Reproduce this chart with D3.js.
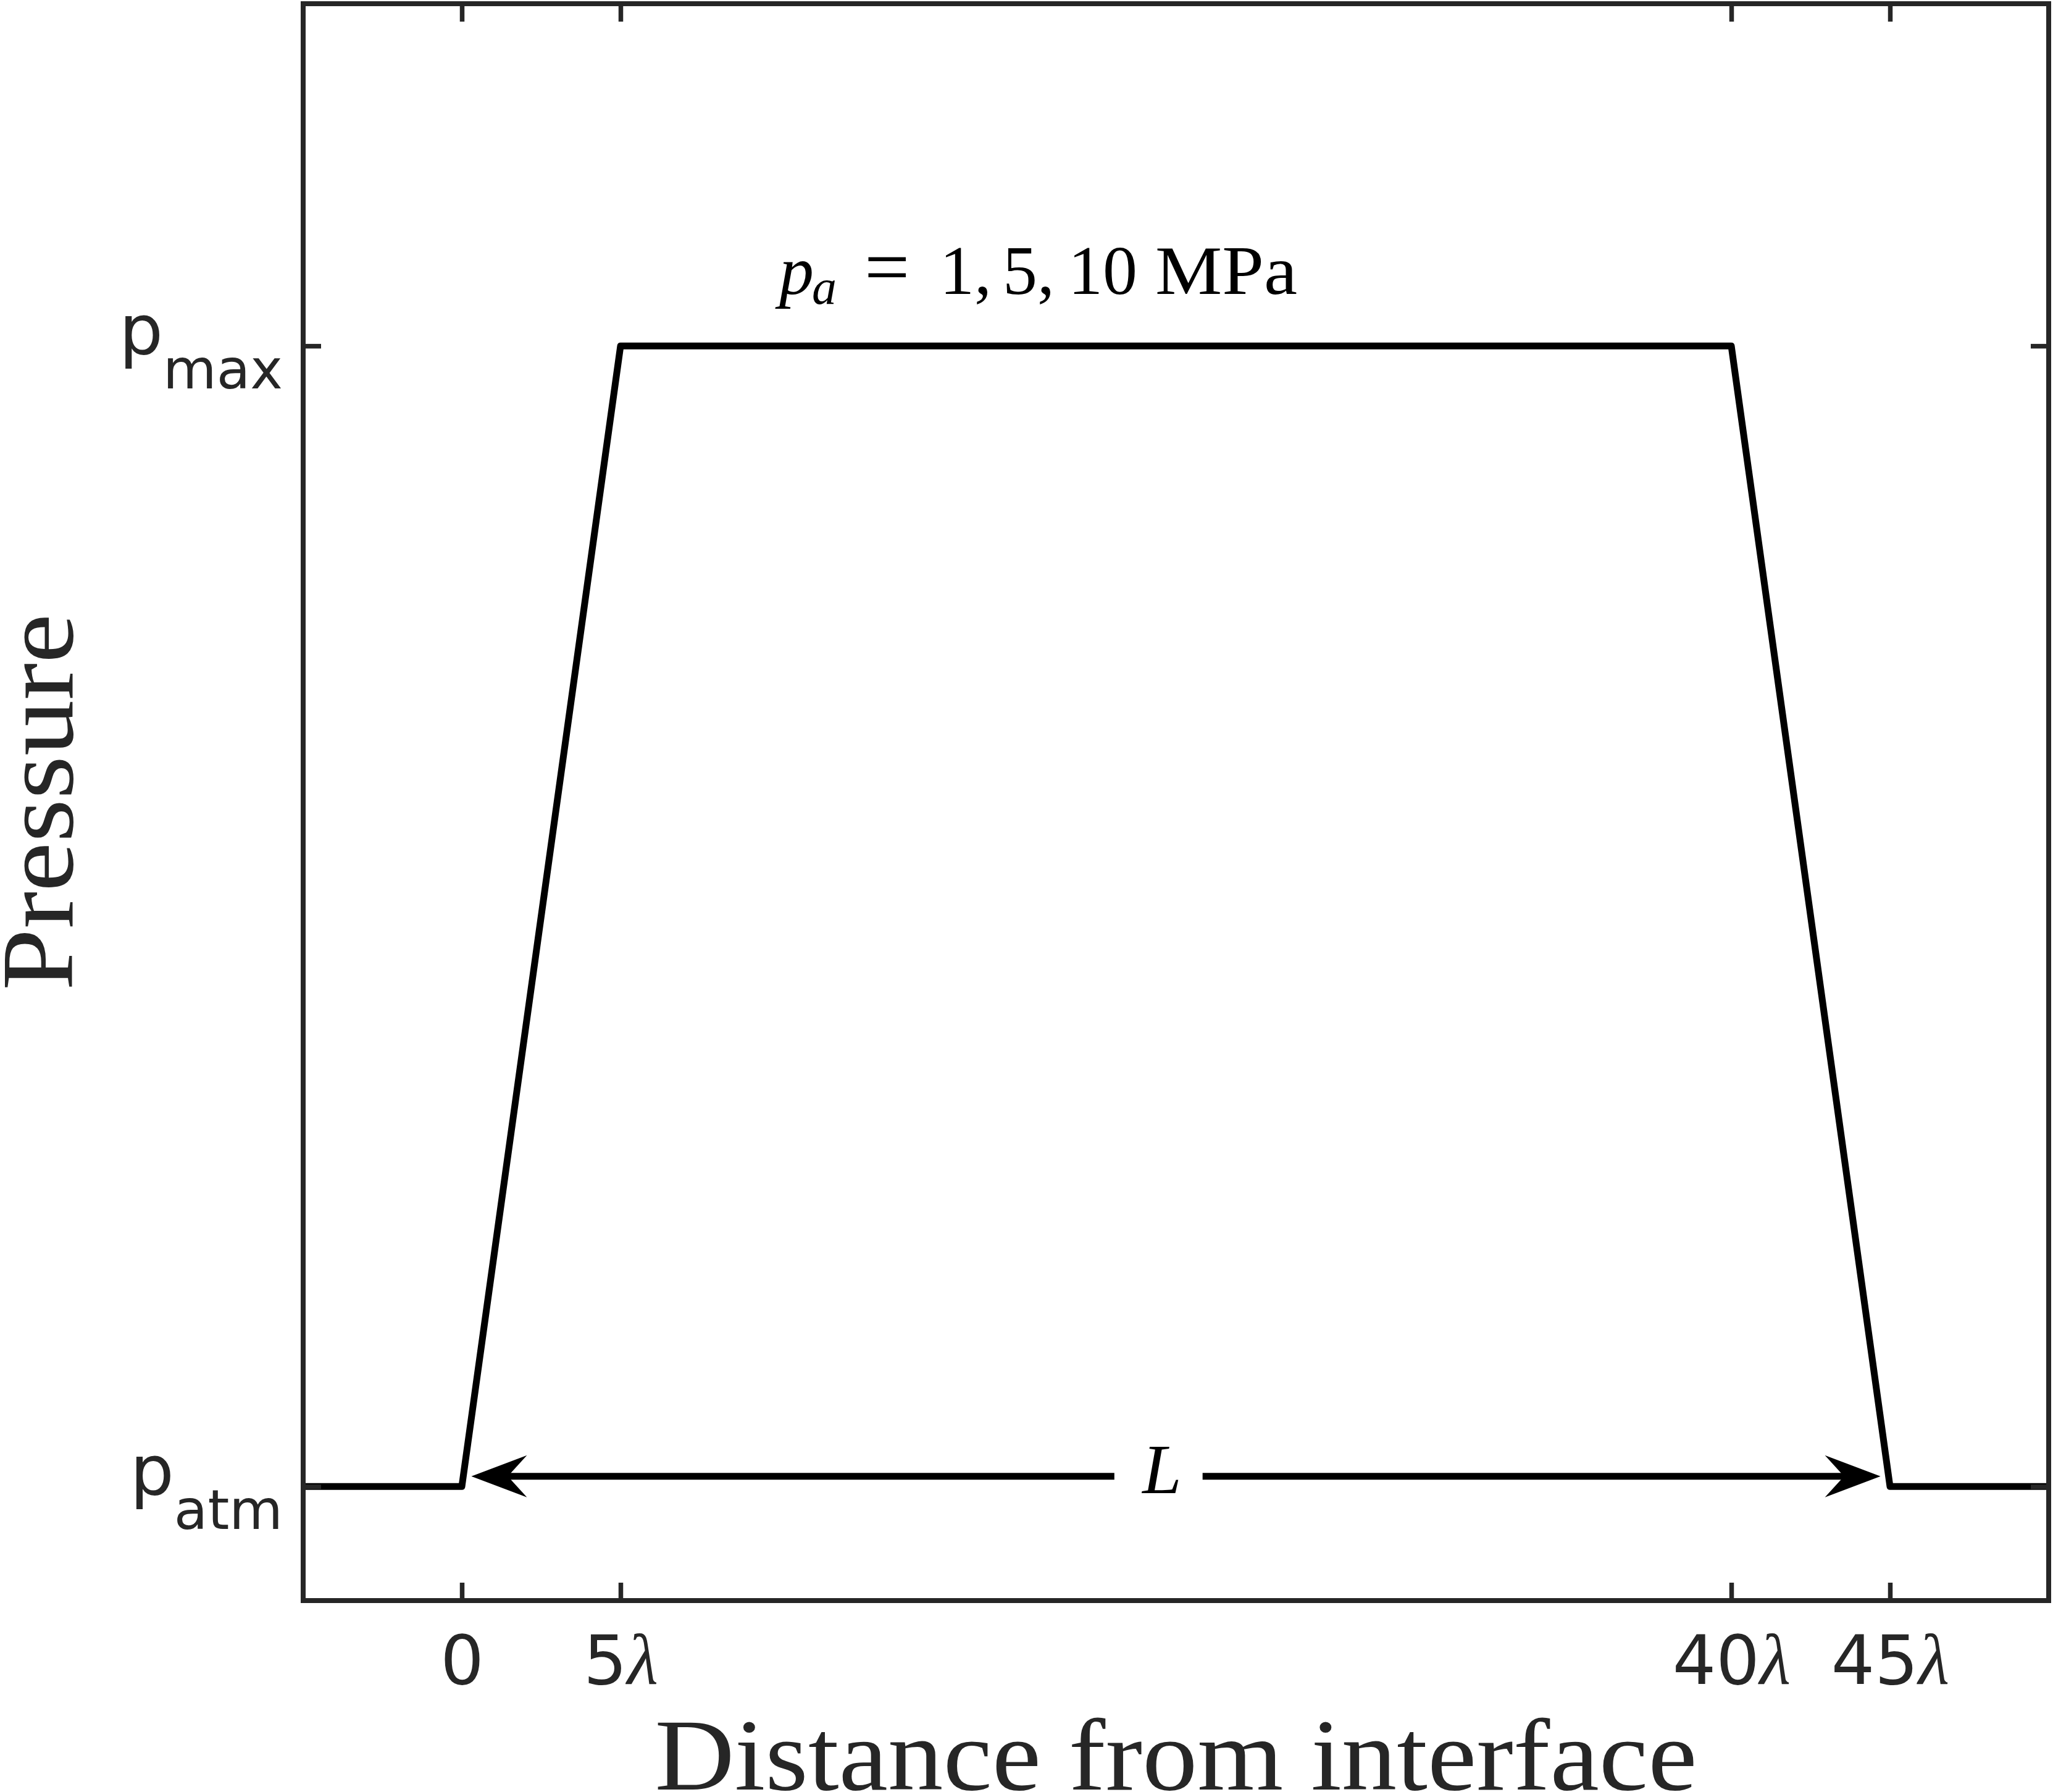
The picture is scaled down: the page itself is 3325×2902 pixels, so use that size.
<!DOCTYPE html>
<html>
<head>
<meta charset="utf-8">
<script src="https://cdn.jsdelivr.net/npm/d3@7"></script>
<style>
  body { margin: 0; background: #fff; }
</style>
</head>
<body>
<div id="vis"></div>
<script>
// Pressure profile along the domain (distance in units of lambda)
let distance = [-5, 0, 5, 40, 45, 50];
let pressure = [0, 0, 1, 1, 0, 0];   // 0 = p_atm, 1 = p_max

// Ticks
let xTicks = [0, 5, 40, 45];
let xTickNumbers = ['0', '5', '40', '45'];
let yTicks = [0, 1];
let yTickSubs = ['atm', 'max'];

// Double arrow marking the length L (data units)
let arrowFrom = 0.3, arrowTo = 44.7, arrowLevel = 0.009;
let gapFrom = 20.56, gapTo = 23.34, labelAt = 22.06;

// Set up dimensions
let width = 3325,
    height = 2902;

let margin = {
  top: 6,
  bottom: 310,
  left: 491,
  right: 7
};

let axisColor = '#262626';

// Create SVG
let svg = d3.select('#vis')
            .append('svg')
            .attr('width', width)
            .attr('height', height)
            .style('background', '#fff');

// Scales
let xScale = d3.scaleLinear()
    .domain([-5, 50])
    .range([margin.left, width - margin.right]);

let yScale = d3.scaleLinear()
    .domain([-0.1, 1.3])
    .range([height - margin.bottom, margin.top]);

let x0 = xScale.range()[0], x1 = xScale.range()[1];
let yB = yScale.range()[0], yT = yScale.range()[1];

// Pressure curve
let points = distance.map((d, i) => ({x: d, p: pressure[i]}));
let line = d3.line()
    .x(d => xScale(d.x))
    .y(d => yScale(d.p));

svg.append('path')
    .datum(points)
    .attr('d', line)
    .attr('fill', 'none')
    .attr('stroke', '#000')
    .attr('stroke-width', 11)
    .attr('stroke-linejoin', 'round');

// Axes (ticks pointing inward on all four sides)
function styleAxis(g) {
  g.select('.domain').remove();
  g.selectAll('.tick line')
    .attr('stroke', axisColor)
    .attr('stroke-width', 7.5);
}

let xAxis = svg.append('g')
    .attr('transform', `translate(0, ${yB})`)
    .call(d3.axisBottom(xScale).tickValues(xTicks).tickSizeInner(-29).tickSizeOuter(0))
    .call(styleAxis);

svg.append('g')
    .attr('transform', `translate(0, ${yT})`)
    .call(d3.axisTop(xScale).tickValues(xTicks).tickSizeInner(-29).tickSizeOuter(0).tickFormat(''))
    .call(styleAxis);

let yAxis = svg.append('g')
    .attr('transform', `translate(${x0}, 0)`)
    .call(d3.axisLeft(yScale).tickValues(yTicks).tickSizeInner(-29).tickSizeOuter(0))
    .call(styleAxis);

svg.append('g')
    .attr('transform', `translate(${x1}, 0)`)
    .call(d3.axisRight(yScale).tickValues(yTicks).tickSizeInner(-29).tickSizeOuter(0).tickFormat(''))
    .call(styleAxis);

// X tick labels: number + lambda
xAxis.selectAll('.tick text')
    .text(null)
    .attr('y', 135)
    .attr('dy', 0)
    .attr('fill', axisColor)
    .style('font-family', 'DejaVu Sans')
    .style('font-size', '111px')
    .each(function(d, i) {
      let t = d3.select(this);
      t.append('tspan').text(xTickNumbers[i]);
      if (d !== 0) {
        t.append('tspan')
          .style('font-family', 'Liberation Serif')
          .style('font-style', 'italic')
          .style('font-size', '116px')
          .text('λ');
      }
    });

// Y tick labels: p with subscript
yAxis.selectAll('.tick text')
    .text(null)
    .attr('x', -33)
    .attr('dy', 0)
    .attr('y', 13.5)
    .attr('text-anchor', 'end')
    .attr('fill', axisColor)
    .style('font-family', 'DejaVu Sans')
    .style('font-size', '112px')
    .each(function(d, i) {
      let t = d3.select(this);
      t.append('tspan').text('p');
      t.append('tspan')
        .attr('dy', 55)
        .style('font-size', '89px')
        .text(yTickSubs[i]);
    });

// Axes box
svg.append('rect')
    .attr('x', x0)
    .attr('y', yT)
    .attr('width', x1 - x0)
    .attr('height', yB - yT)
    .attr('fill', 'none')
    .attr('stroke', axisColor)
    .attr('stroke-width', 8);

// Length arrow
let ay = yScale(arrowLevel);
svg.append('line')
    .attr('x1', xScale(arrowFrom) + 40).attr('x2', xScale(gapFrom))
    .attr('y1', ay).attr('y2', ay)
    .attr('stroke', '#000').attr('stroke-width', 11);
svg.append('line')
    .attr('x1', xScale(gapTo)).attr('x2', xScale(arrowTo) - 40)
    .attr('y1', ay).attr('y2', ay)
    .attr('stroke', '#000').attr('stroke-width', 11);

function arrowHead(tip, dir) {
  // dir = +1 points right, -1 points left
  return `M${tip},${ay} L${tip - dir * 90},${ay - 34} L${tip - dir * 59},${ay} L${tip - dir * 90},${ay + 34} Z`;
}
svg.append('path').attr('d', arrowHead(xScale(arrowFrom), -1)).attr('fill', '#000');
svg.append('path').attr('d', arrowHead(xScale(arrowTo), 1)).attr('fill', '#000');

svg.append('text')
    .attr('x', xScale(labelAt))
    .attr('y', 2418)
    .attr('text-anchor', 'middle')
    .style('font-family', 'Liberation Serif')
    .style('font-style', 'italic')
    .style('font-size', '114px')
    .attr('fill', '#000')
    .text('L');

// Amplitude annotation above the plateau
let title = svg.append('text')
    .attr('y', 476)
    .style('font-family', 'Liberation Serif')
    .style('font-size', '112px')
    .attr('fill', '#000');
title.append('tspan').attr('x', 1262).style('font-style', 'italic').text('p');
title.append('tspan').attr('x', 1315).attr('dy', 16).style('font-style', 'italic').style('font-size', '80px').text('a');
title.append('tspan').attr('x', 1400).attr('dy', -16).style('font-size', '130px').text('=');
title.append('tspan').attr('x', 1522).text('1,');
title.append('tspan').attr('x', 1624).text('5,');
title.append('tspan').attr('x', 1730).text('10');
title.append('tspan').attr('x', 1871).attr('textLength', 230).attr('lengthAdjust', 'spacingAndGlyphs').text('MPa');

// X-axis label
svg.append('text')
    .attr('x', (x0 + x1) / 2)
    .attr('y', 2898)
    .attr('text-anchor', 'middle')
    .attr('textLength', 1688)
    .attr('lengthAdjust', 'spacingAndGlyphs')
    .attr('fill', axisColor)
    .style('font-family', 'Liberation Serif')
    .style('font-size', '166px')
    .text('Distance from interface');

// Y-axis label
svg.append('text')
    .attr('transform', `translate(117, ${(yT + yB) / 2}) rotate(-90)`)
    .attr('text-anchor', 'middle')
    .attr('textLength', 610)
    .attr('lengthAdjust', 'spacingAndGlyphs')
    .attr('fill', axisColor)
    .style('font-family', 'Liberation Serif')
    .style('font-size', '166px')
    .text('Pressure');
</script>
</body>
</html>
